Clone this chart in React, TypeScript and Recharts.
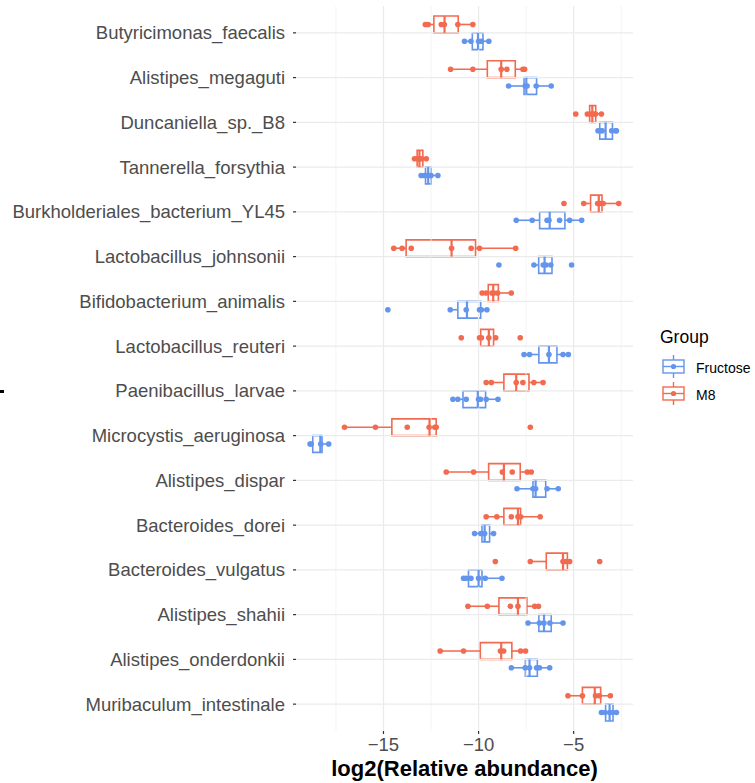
import React from "react";
import {
  ComposedChart,
  XAxis,
  YAxis,
  Scatter,
  ReferenceArea,
  ReferenceLine,
} from "recharts";

const categories = [
  "Butyricimonas_faecalis",
  "Alistipes_megaguti",
  "Duncaniella_sp._B8",
  "Tannerella_forsythia",
  "Burkholderiales_bacterium_YL45",
  "Lactobacillus_johnsonii",
  "Bifidobacterium_animalis",
  "Lactobacillus_reuteri",
  "Paenibacillus_larvae",
  "Microcystis_aeruginosa",
  "Alistipes_dispar",
  "Bacteroides_dorei",
  "Bacteroides_vulgatus",
  "Alistipes_shahii",
  "Alistipes_onderdonkii",
  "Muribaculum_intestinale",
];

const groups = ["Fructose", "M8"];
const groupColors = ["#6495ED", "#F26A4F"];
// vertical dodge of each group within a category (in category units)
const groupOffsets = [0.1875, -0.1875];

// box stats: [lower whisker, Q1, median, Q3, upper whisker]
const boxM8 = [
  [-12.75, -12.35, -11.79, -11.07, -10.3],
  [-11.47, -9.54, -8.81, -8.07, -7.58],
  [-4.28, -4.16, -4.02, -3.84, -3.54],
  [-13.37, -13.23, -13.11, -12.93, -12.75],
  [-4.47, -4.11, -3.68, -3.51, -2.63],
  [-14.46, -13.81, -11.42, -10.16, -8.05],
  [-9.81, -9.49, -9.23, -8.96, -8.28],
  [-9.95, -9.89, -9.46, -9.21, -9.07],
  [-9.6, -8.67, -8.02, -7.35, -6.61],
  [-17.05, -14.56, -12.58, -12.23, -12.2],
  [-11.7, -9.47, -8.67, -7.81, -7.23],
  [-9.6, -8.67, -7.93, -7.79, -6.76],
  [-7.28, -6.44, -5.56, -5.33, -5.21],
  [-10.56, -8.93, -7.93, -7.46, -6.76],
  [-12.02, -9.91, -8.81, -8.25, -7.53],
  [-5.3, -4.54, -3.89, -3.58, -3.07],
];

const boxFructose = [
  [-10.74, -10.33, -10.03, -9.77, -9.46],
  [-8.42, -7.61, -7.49, -6.95, -6.18],
  [-3.72, -3.63, -3.32, -2.96, -2.75],
  [-13.02, -12.79, -12.65, -12.49, -12.14],
  [-8.02, -6.79, -6.26, -5.46, -4.58],
  [-7.09, -6.84, -6.53, -6.14, -6.14],
  [-11.49, -11.09, -10.61, -9.89, -9.56],
  [-7.61, -6.83, -6.3, -5.88, -5.28],
  [-11.35, -10.82, -10.04, -9.63, -8.98],
  [-18.86, -18.72, -18.32, -18.23, -17.88],
  [-7.98, -7.14, -7.0, -6.47, -5.81],
  [-10.21, -9.82, -9.68, -9.42, -9.21],
  [-10.79, -10.53, -10.0, -9.82, -8.77],
  [-7.4, -6.83, -6.56, -6.18, -5.56],
  [-8.28, -7.54, -7.32, -6.91, -6.26],
  [-3.54, -3.32, -3.11, -2.93, -2.75],
];

// individual samples (log2 relative abundance)
const pointsM8 = [
  [-12.8, -12.65, -11.96, -11.8, -11.09, -10.3],
  [-11.47, -10.3, -8.81, -8.51, -7.67, -7.58],
  [-4.89, -4.28, -4.1, -3.95, -3.85, -3.54],
  [-13.37, -13.2, -13.1, -13.0, -12.75],
  [-5.51, -4.47, -3.74, -3.6, -3.45, -2.63],
  [-14.46, -14.02, -13.54, -11.42, -10.39, -9.95, -8.05],
  [-9.81, -9.6, -9.3, -9.2, -9.0, -8.28],
  [-10.91, -9.95, -9.85, -9.46, -9.1, -7.81],
  [-9.6, -9.33, -8.02, -7.67, -7.09, -6.61],
  [-17.05, -15.42, -13.75, -12.6, -12.3, -12.23, -7.28],
  [-11.7, -10.26, -8.75, -8.23, -7.44, -7.23],
  [-9.6, -9.04, -8.28, -7.93, -7.79, -6.76],
  [-9.12, -7.28, -5.56, -5.4, -5.21, -3.63],
  [-10.56, -9.54, -8.33, -7.93, -7.05, -6.85],
  [-12.02, -10.79, -8.85, -8.68, -7.79, -7.53],
  [-5.3, -4.54, -3.85, -3.65, -3.07],
];

const pointsFructose = [
  [-10.74, -10.4, -10.0, -9.85, -9.46],
  [-8.42, -7.55, -7.45, -6.97, -6.18],
  [-3.72, -3.6, -3.5, -3.0, -2.8, -2.75],
  [-13.02, -12.85, -12.7, -12.6, -12.5, -12.14],
  [-8.02, -7.18, -6.4, -6.3, -5.74, -5.21, -4.58],
  [-8.93, -7.09, -6.6, -6.45, -6.2, -5.11],
  [-14.77, -11.49, -10.65, -9.95, -9.85, -9.56],
  [-7.61, -7.32, -6.3, -5.56, -5.28],
  [-11.35, -11.09, -10.65, -10.0, -9.9, -9.6, -8.98],
  [-18.86, -18.8, -18.3, -17.88],
  [-7.98, -7.14, -7.0, -6.4, -5.81],
  [-10.21, -9.88, -9.68, -9.21],
  [-10.79, -10.65, -10.4, -10.0, -9.65, -8.77],
  [-7.4, -6.8, -6.56, -6.25, -5.56],
  [-8.28, -7.55, -7.32, -6.95, -6.8, -6.26],
  [-3.54, -3.35, -3.1, -2.95, -2.75],
];

const xTicks = [-15, -10, -5];
const xMinor = [-17.5, -12.5, -7.5, -2.5];
const yTicks = categories.map((_, i) => i);

const boxes = [boxFructose, boxM8];
const points = [pointsFructose, pointsM8];

const FONT = "'Liberation Sans', Arial, Helvetica, sans-serif";
const HALF = 0.1875;

const scatterData = points.map((grp, g) =>
  grp.flatMap((vals, i) => vals.map((v) => ({ x: v, y: i + groupOffsets[g] })))
);

const LegendContent = () => (
  <svg width={100} height={90} style={{ fontFamily: FONT, display: "block" }}>
    <text x={5} y={18} fontSize={17.5} fill="#000">
      Group
    </text>
    {groups.map((name, g) => {
      const top = 35 + g * 27;
      const c = groupColors[g];
      return (
        <g key={name}>
          <line x1={18.5} x2={18.5} y1={top - 5} y2={top + 18} stroke={c} strokeWidth={1.4} />
          <rect x={8} y={top} width={21} height={13} fill="#fff" stroke={c} strokeWidth={1.4} />
          <line x1={8} x2={29} y1={top + 6.5} y2={top + 6.5} stroke={c} strokeWidth={1.4} />
          <circle cx={18.5} cy={top + 6.5} r={2.6} fill={c} />
          <text x={41} y={top + 13} fontSize={14} fill="#000">
            {name}
          </text>
        </g>
      );
    })}
  </svg>
);

export default function App() {
  return (
    <div style={{ position: "absolute", left: 0, top: 0, width: 755, height: 783, background: "#fff" }}>
      <ComposedChart
        width={755}
        height={783}
        margin={{ top: 6, right: 122, bottom: 0, left: 0 }}
        style={{ fontFamily: FONT }}
      >
        {xMinor.map((v) => (
          <ReferenceLine key={"m" + v} x={v} stroke="#f1f1f1" strokeWidth={0.8} />
        ))}
        {xTicks.map((v) => (
          <ReferenceLine key={"M" + v} x={v} stroke="#ebebeb" strokeWidth={1.3} />
        ))}
        {yTicks.map((v) => (
          <ReferenceLine key={"Y" + v} y={v} stroke="#ebebeb" strokeWidth={1.3} />
        ))}
        <XAxis
          type="number"
          dataKey="x"
          domain={[-19.6, -1.88]}
          ticks={xTicks}
          allowDataOverflow
          tickFormatter={(v: number) => (v < 0 ? "\u2212" + Math.abs(v) : String(v))}
          tick={{ fontSize: 18.5, fill: "#4d4d4d" }}
          tickSize={3}
          tickMargin={4}
          tickLine={{ stroke: "#333", strokeWidth: 1.2 }}
          axisLine={false}
          height={52}
          label={{
            value: "log2(Relative abundance)",
            position: "insideBottom",
            offset: 7,
            style: { fontSize: 22, fontWeight: "bold", fill: "#000" },
          }}
        />
        <YAxis
          type="number"
          dataKey="y"
          domain={[-0.6, 15.6]}
          reversed
          ticks={yTicks}
          interval={0}
          allowDataOverflow
          tickFormatter={(i: number) => categories[i] ?? ""}
          tick={{ fontSize: 18.5, fill: "#4d4d4d" }}
          tickSize={3}
          tickMargin={8}
          tickLine={{ stroke: "#333", strokeWidth: 1.2 }}
          axisLine={false}
          width={296}
        />
        {boxes.map((grp, g) =>
          grp.map((b, i) => {
            const yc = i + groupOffsets[g];
            const c = groupColors[g];
            return (
              <ReferenceArea
                key={`box-${g}-${i}`}
                x1={b[1]}
                x2={b[3]}
                y1={yc - HALF}
                y2={yc + HALF}
                fill="#fff"
                fillOpacity={1}
                stroke={c}
                strokeWidth={1.6}
                ifOverflow="visible"
              />
            );
          })
        )}
        {boxes.map((grp, g) =>
          grp.map((b, i) => {
            const yc = i + groupOffsets[g];
            const c = groupColors[g];
            return (
              <React.Fragment key={`wh-${g}-${i}`}>
                <ReferenceLine
                  segment={[{ x: b[0], y: yc }, { x: b[1], y: yc }]}
                  stroke={c}
                  strokeWidth={1.6}
                  ifOverflow="visible"
                />
                <ReferenceLine
                  segment={[{ x: b[3], y: yc }, { x: b[4], y: yc }]}
                  stroke={c}
                  strokeWidth={1.6}
                  ifOverflow="visible"
                />
                <ReferenceLine
                  segment={[{ x: b[2], y: yc - HALF }, { x: b[2], y: yc + HALF }]}
                  stroke={c}
                  strokeWidth={2.2}
                  ifOverflow="visible"
                />
              </React.Fragment>
            );
          })
        )}
        {groups.map((name, g) => (
          <Scatter
            key={name}
            name={name}
            data={scatterData[g]}
            fill={groupColors[g]}
            isAnimationActive={false}
            shape={(p: any) => <circle cx={p.cx} cy={p.cy} r={2.8} fill={groupColors[g]} />}
          />
        ))}
      </ComposedChart>
      <div style={{ position: "absolute", left: 655, top: 325 }}>
        <LegendContent />
      </div>
      <div style={{ position: "absolute", left: 0, top: 390, width: 4, height: 2.5, background: "#000" }} />
    </div>
  );
}
